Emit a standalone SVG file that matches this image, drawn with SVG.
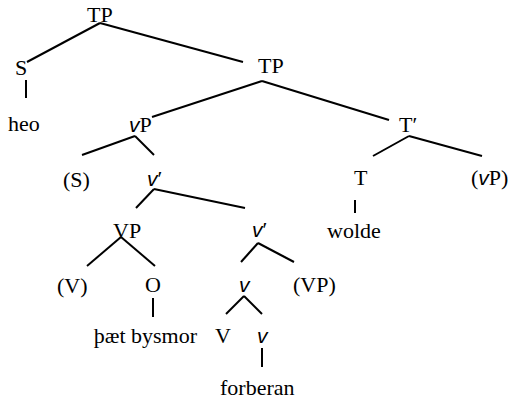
<svg xmlns="http://www.w3.org/2000/svg" width="509" height="406" viewBox="0 0 509 406">
<style>
text{font-family:"Liberation Serif","Times New Roman",serif;font-size:22px;fill:#000}
.i{font-family:"Liberation Sans",Arial,sans-serif;font-style:italic;font-size:21px}
line{stroke:#000;stroke-width:2;stroke-linecap:butt}
</style>
<rect width="509" height="406" fill="#fff"/>
<g id="connectors">
<line x1="100" y1="23" x2="27" y2="62"/>
<line x1="100" y1="23" x2="243" y2="62"/>
<line x1="26" y1="80" x2="26" y2="98"/>
<line x1="262" y1="81" x2="152" y2="117"/>
<line x1="262" y1="81" x2="389" y2="120"/>
<line x1="409" y1="136" x2="373" y2="156"/>
<line x1="409" y1="136" x2="482" y2="156"/>
<line x1="355" y1="200" x2="355" y2="213"/>
<line x1="135" y1="136" x2="82" y2="155"/>
<line x1="135" y1="136" x2="154" y2="155"/>
<line x1="154" y1="189" x2="136" y2="208"/>
<line x1="154" y1="189" x2="245" y2="208"/>
<line x1="121" y1="237" x2="87" y2="266"/>
<line x1="121" y1="237" x2="155" y2="266"/>
<line x1="258" y1="243" x2="241" y2="262"/>
<line x1="258" y1="243" x2="294" y2="262"/>
<line x1="153" y1="298" x2="153" y2="317"/>
<line x1="244" y1="296" x2="226" y2="314"/>
<line x1="244" y1="296" x2="262" y2="314"/>
<line x1="262" y1="348" x2="262" y2="367"/>
</g>
<g id="TP1"><text x="87" y="22">TP</text></g>
<g id="S"><text x="15" y="75">S</text></g>
<g id="heo"><text x="8" y="131">heo</text></g>
<g id="TP2"><text x="258" y="73">TP</text></g>
<g id="vP"><text x="129" y="132"><tspan class="i">v</tspan>P</text></g>
<g id="Tbar"><text x="399" y="132">T′</text></g>
<g id="S2"><text x="63" y="187">(S)</text></g>
<g id="vbar1"><text x="147" y="186"><tspan class="i">v</tspan>′</text></g>
<g id="T"><text x="354" y="185">T</text></g>
<g id="vP2"><text x="471" y="185">(<tspan class="i">v</tspan>P)</text></g>
<g id="wolde"><text x="327" y="238">wolde</text></g>
<g id="VP"><text x="113" y="238">VP</text></g>
<g id="vbar2"><text x="252" y="237"><tspan class="i">v</tspan>′</text></g>
<g id="V1"><text x="57" y="293">(V)</text></g>
<g id="O"><text x="145" y="292">O</text></g>
<g id="v1"><text x="239" y="292" class="i">v</text></g>
<g id="VP2"><text x="293" y="292">(VP)</text></g>
<g id="obj"><text x="197" y="343" text-anchor="end">þæt bysmor</text></g>
<g id="V2"><text x="215" y="343">V</text></g>
<g id="v2"><text x="257" y="343" class="i">v</text></g>
<g id="forberan"><text x="220" y="395">forberan</text></g>
</svg>
